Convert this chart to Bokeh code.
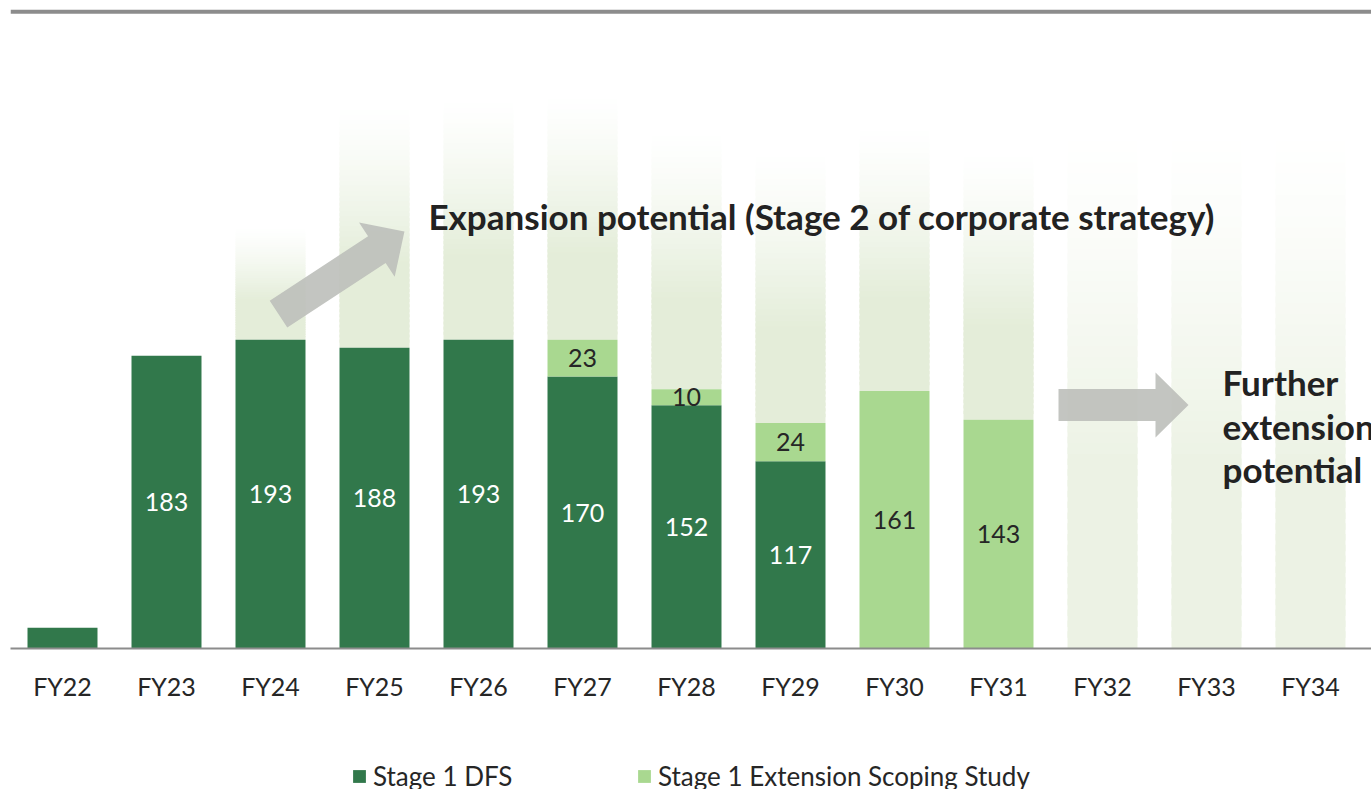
from bokeh.plotting import figure
from bokeh.layouts import column
from bokeh.models import (ColumnDataSource, Range1d, FixedTicker, Span, Label,
                          Legend, LegendItem)
from bokeh.core.properties import value
from bokeh.embed import file_html
from bokeh.resources import INLINE

# ---------------- data ----------------
categories = ["FY22", "FY23", "FY24", "FY25", "FY26", "FY27", "FY28",
              "FY29", "FY30", "FY31", "FY32", "FY33", "FY34"]
stage1_dfs = [13, 183, 193, 188, 193, 170, 152, 117, 0, 0, 0, 0, 0]
stage1_ext = [0, 0, 0, 0, 0, 23, 10, 24, 161, 143, 0, 0, 0]
show_label = [False, True, True, True, True, True, True, True, True, True, False, False, False]
# faded "expansion potential" columns (top of fade, same units); None = no column
potential_top = [None, None, 264, 340, 344, 347, 324, 311, 327, 311, 324, 324, 324]
series_names = ["Stage 1 DFS", "Stage 1 Extension Scoping Study"]

# ---------------- layout constants ----------------
W, H = 1371, 789
MAIN_H = 715
LEG_H = H - MAIN_H
LEFT, BOTTOM_BORDER = 10, 67
FRAME_W, FRAME_H = W - LEFT, MAIN_H - BOTTOM_BORDER
CAT_PX = 104.0
X_START = -0.5
X_END = X_START + FRAME_W / CAT_PX
Y_END = 405.0
BAR_W = 0.673

DARK = "#31784B"
LIGHT = "#A9D890"
FADE = (228, 237, 217)
GREY = "#8C8C8C"
FONT = "Lato"

p = figure(width=W, height=MAIN_H, output_backend="svg", toolbar_location=None,
           x_range=Range1d(X_START, X_END), y_range=Range1d(0, Y_END),
           min_border_left=LEFT, min_border_right=0, min_border_top=0,
           min_border_bottom=BOTTOM_BORDER)
p.outline_line_color = None
p.grid.visible = False
p.yaxis.visible = False
p.background_fill_color = "white"
p.border_fill_color = "white"

x = list(range(len(categories)))

# ---------------- faded potential columns (vertical gradient) ----------------
N = 48
gl, gr, gb, gt, gc = [], [], [], [], []
for i, top in enumerate(potential_top):
    if top is None:
        continue
    base = stage1_dfs[i] + stage1_ext[i]
    strength = 1.0 if base > 0 else 0.72
    h = top - base
    for k in range(N):
        f = (k + 0.5) / N
        if f < 0.35:
            a = 1.0
        else:
            a = ((1.0 - f) / 0.65) ** 1.3
        a *= strength
        r = round(255 - (255 - FADE[0]) * a)
        g = round(255 - (255 - FADE[1]) * a)
        b = round(255 - (255 - FADE[2]) * a)
        gl.append(i - BAR_W / 2)
        gr.append(i + BAR_W / 2)
        gb.append(base + h * k / N)
        gt.append(base + h * (k + 1) / N + (h / N * 0.6 if k < N - 1 else 0))
        gc.append("#%02x%02x%02x" % (r, g, b))
p.quad(left=gl, right=gr, bottom=gb, top=gt, fill_color=gc, line_color=None)

# ---------------- stacked bars ----------------
src = ColumnDataSource(dict(
    x=x,
    dfs=stage1_dfs,
    ext_bottom=stage1_dfs,
    ext_top=[a + b for a, b in zip(stage1_dfs, stage1_ext)],
))
p.vbar(x="x", width=BAR_W, bottom=0, top="dfs", source=src,
       fill_color=DARK, line_color=None)
p.vbar(x="x", width=BAR_W, bottom="ext_bottom", top="ext_top", source=src,
       fill_color=LIGHT, line_color=None)

# ---------------- value labels ----------------
lx, ly, lt = [], [], []
for i in x:
    if show_label[i] and stage1_dfs[i] > 0:
        lx.append(i); ly.append(stage1_dfs[i] / 2); lt.append(str(stage1_dfs[i]))
p.text(x=lx, y=ly, text=lt, text_font=value(FONT), text_font_size="25px",
       text_color="white", text_align="center", text_baseline="middle")
lx, ly, lt = [], [], []
for i in x:
    if show_label[i] and stage1_ext[i] > 0:
        lx.append(i); ly.append(stage1_dfs[i] + stage1_ext[i] / 2); lt.append(str(stage1_ext[i]))
p.text(x=lx, y=ly, text=lt, text_font=value(FONT), text_font_size="25px",
       text_color="#262626", text_align="center", text_baseline="middle")

# ---------------- arrows ----------------
def to_px(xd, yd):
    return ((xd - X_START) * FRAME_W / (X_END - X_START), yd * FRAME_H / Y_END)

def to_data(px, py):
    return (px * (X_END - X_START) / FRAME_W + X_START, py * Y_END / FRAME_H)

def block_arrow(tail, tip, shaft_w=32.0, head_w=65.0, head_len=33.0):
    tx, ty = to_px(*tail)
    hx, hy = to_px(*tip)
    dx, dy = hx - tx, hy - ty
    L = (dx * dx + dy * dy) ** 0.5
    ux, uy = dx / L, dy / L
    nx, ny = -uy, ux
    mx, my = hx - ux * head_len, hy - uy * head_len
    pts = [
        (tx + nx * shaft_w / 2, ty + ny * shaft_w / 2),
        (mx + nx * shaft_w / 2, my + ny * shaft_w / 2),
        (mx + nx * head_w / 2, my + ny * head_w / 2),
        (hx, hy),
        (mx - nx * head_w / 2, my - ny * head_w / 2),
        (mx - nx * shaft_w / 2, my - ny * shaft_w / 2),
        (tx - nx * shaft_w / 2, ty - ny * shaft_w / 2),
    ]
    d = [to_data(a, b) for a, b in pts]
    return [a for a, _ in d], [b for _, b in d]

ARROW_UP = dict(tail=(2.077, 209.0), tip=(3.288, 260.6))
ARROW_RIGHT = dict(tail=(9.577, 152.2), tip=(10.827, 152.2))
for arr in (ARROW_UP, ARROW_RIGHT):
    ax, ay = block_arrow(arr["tail"], arr["tip"])
    p.patch(ax, ay, fill_color="#BDBFBA", fill_alpha=0.9, line_color=None)

# ---------------- annotations ----------------
p.add_layout(Label(x=3.519, y=270.6, text="Expansion potential (Stage 2 of corporate strategy)",
                   text_font=FONT, text_font_style="bold", text_font_size="35px",
                   text_color="#222222", text_baseline="middle", text_align="left"))
for txt, yy in (("Further", 166.8), ("extension", 139.3), ("potential", 112.4)):
    p.add_layout(Label(x=11.154, y=yy, text=txt, text_font=FONT, text_font_style="bold",
                       text_font_size="35px", text_color="#222222",
                       text_baseline="middle", text_align="left"))

# top rule
p.add_layout(Span(location=397.9, dimension="width", line_color=GREY, line_width=4))

# ---------------- x axis ----------------
p.xaxis.ticker = FixedTicker(ticks=x)
p.xaxis.major_label_overrides = {i: c for i, c in zip(x, categories)}
p.xaxis.major_tick_in = 0
p.xaxis.major_tick_out = 0
p.xaxis.minor_tick_line_color = None
p.xaxis.axis_line_color = GREY
p.xaxis.axis_line_width = 2
p.xaxis.major_label_text_font = FONT
p.xaxis.major_label_text_font_size = "25px"
p.xaxis.major_label_text_color = "#262626"
p.xaxis.major_label_standoff = 22

# ---------------- legend strip (separate figure below) ----------------
q = figure(width=W, height=LEG_H, output_backend="svg", toolbar_location=None,
           x_range=Range1d(0, 1), y_range=Range1d(0, 1),
           min_border_left=0, min_border_right=0, min_border_top=0, min_border_bottom=0)
q.axis.visible = False
q.grid.visible = False
q.outline_line_color = None
q.background_fill_color = "white"
q.border_fill_color = "white"
# legend-only renderers: one bar each, lying outside the visible range
g_dfs = q.vbar(x=[5], top=[1], width=0.1, fill_color=DARK, line_color=None)
g_ext = q.vbar(x=[5], top=[1], width=0.1, fill_color=LIGHT, line_color=None)

common = dict(orientation="horizontal", border_line_color=None, background_fill_alpha=0,
              padding=0, margin=0, glyph_width=16, glyph_height=16, label_standoff=6,
              label_text_font=FONT, label_text_font_size="26px", label_text_color="#262626")
leg1 = Legend(items=[LegendItem(label=series_names[0], renderers=[g_dfs])],
              location=(341, -3), **common)
leg2 = Legend(items=[LegendItem(label=series_names[1], renderers=[g_ext])],
              location=(626, -3), **common)
q.add_layout(leg1)
q.add_layout(leg2)

open("out.html", "w").write(file_html(column(p, q, spacing=0), INLINE))
